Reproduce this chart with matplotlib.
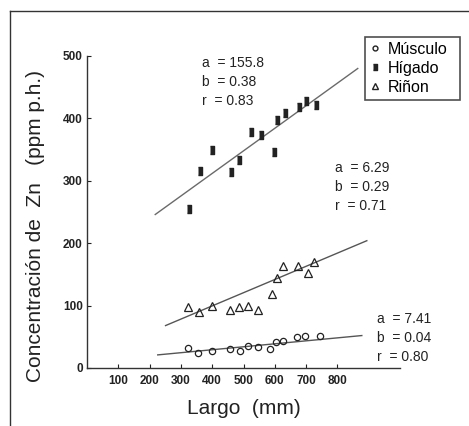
import matplotlib.pyplot as plt
from matplotlib.lines import Line2D

plt.rcParams['font.family'] = ['Liberation Sans', 'DejaVu Sans']

# Músculo (open circles)
musc_x = [324, 356, 398, 457, 489, 515, 547, 585, 604, 627, 670, 697, 745]
musc_y = [32, 24, 27, 31, 28, 36, 34, 31, 42, 43, 50, 51, 52]
musc_line_x = [226, 878]
musc_line_y = [21, 52]

# Hígado (filled bars)
hig_x = [327, 361, 400, 461, 486, 523, 555, 596, 606, 631, 677, 699, 732]
hig_y = [255, 315, 350, 314, 333, 378, 373, 346, 397, 408, 418, 428, 421]
hig_line_x = [218, 865]
hig_line_y = [246, 480]

# Riñon (open triangles)
rin_x = [324, 359, 398, 457, 487, 515, 547, 590, 606, 627, 675, 707, 726]
rin_y = [97, 89, 100, 93, 97, 100, 93, 118, 144, 163, 163, 153, 170]
rin_line_x = [251, 894]
rin_line_y = [68, 204]

x_ticks = [100, 200, 300, 400, 500, 600, 700, 800]
y_ticks = [0, 100, 200, 300, 400, 500]

stats = [
    ("a  = 155.8\nb  = 0.38\nr  = 0.83", 367, 500),
    ("a  = 6.29\nb  = 0.29\nr  = 0.71", 793, 332),
    ("a  = 7.41\nb  = 0.04\nr  = 0.80", 926, 90),
]

fig = plt.figure(figsize=(4.69, 4.26), dpi=100)
ax = fig.add_axes([87 / 469, 1 - 368 / 426, 313 / 469, 312 / 426])

dark = '#222222'
bar_marker = [(-0.55, -1), (0.55, -1), (0.55, 1), (-0.55, 1)]

ax.plot(hig_line_x, hig_line_y, color='#6a6a6a', lw=1)
ax.plot(rin_line_x, rin_line_y, color='#555555', lw=1)
ax.plot(musc_line_x, musc_line_y, color='#555555', lw=1)

ax.plot(musc_x, musc_y, 'o', ms=4.5, mfc='none', mec=dark, mew=0.9)
ax.plot(hig_x, hig_y, ls='none', marker=bar_marker, ms=5.5, mfc=dark, mec=dark)
ax.plot(rin_x, rin_y, '^', ms=5.5, mfc='none', mec=dark, mew=0.9)

for txt, tx, ty in stats:
    ax.text(tx, ty, txt, fontsize=10, color='#222222', va='top', ha='left',
            linespacing=1.45)

ax.set_xlim(0, 1000)
ax.set_ylim(0, 500)
ax.set_xticks(x_ticks)
ax.set_yticks(y_ticks)
ax.tick_params(direction='in', length=3, width=0.8, colors='#222222',
               labelsize=8.5)
for lab in ax.get_xticklabels() + ax.get_yticklabels():
    lab.set_fontweight('bold')
ax.tick_params(axis='x', pad=5)
ax.tick_params(axis='y', pad=3)
for s in ['top', 'right']:
    ax.spines[s].set_visible(False)
for s in ['left', 'bottom']:
    ax.spines[s].set_color('#333333')
    ax.spines[s].set_linewidth(1)

ax.set_xlabel("Largo  (mm)", fontsize=15, color='#222222', labelpad=9)
ax.set_ylabel("Concentración de  Zn   (ppm p.h.)", fontsize=15,
              color='#222222')
ax.yaxis.set_label_coords(-0.135, 0.456)

handles = [
    Line2D([], [], ls='none', marker='o', ms=3.5, mfc='none', mec=dark),
    Line2D([], [], ls='none', marker=bar_marker, ms=5, mfc=dark, mec=dark),
    Line2D([], [], ls='none', marker='^', ms=5, mfc='none', mec=dark),
]
leg = fig.legend(handles, ["Músculo", "Hígado", "Riñon"],
                 loc='upper left', mode='expand',
                 bbox_to_anchor=(365 / 469, 1 - 98 / 426, 95 / 469, 61 / 426),
                 fontsize=11.5, frameon=True, fancybox=False, edgecolor='#222222',
                 handlelength=0.6, handletextpad=0.5, labelspacing=0.25,
                 borderpad=0.3, borderaxespad=0)
leg.get_frame().set_linewidth(1.2)

# outer border
fig.add_artist(Line2D([10 / 469, 10 / 469], [0, 1 - 11 / 426],
                      transform=fig.transFigure, color='#333333', lw=1))
fig.add_artist(Line2D([10 / 469, 1], [1 - 11 / 426, 1 - 11 / 426],
                      transform=fig.transFigure, color='#333333', lw=1))

fig.savefig("out.png", dpi=100)
